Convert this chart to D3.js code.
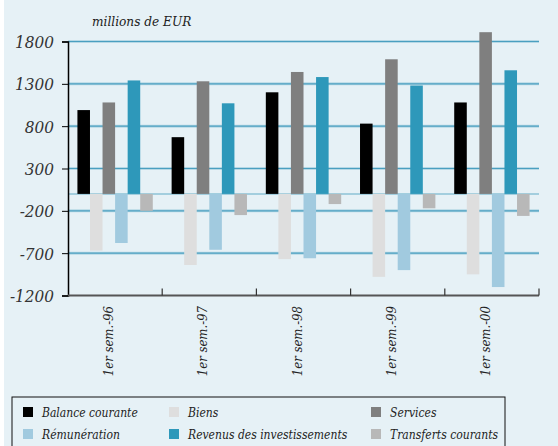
<!DOCTYPE html>
<html>
<head>
<meta charset="utf-8">
<script src="https://cdn.jsdelivr.net/npm/d3@7"></script>
<style>
  body { margin: 0; background: #fff; }
  svg { display: block; }
  svg text { font-family: "DejaVu Serif Condensed", "DejaVu Serif", serif !important; font-style: italic; fill: #222; }
</style>
</head>
<body>
<div id="chart"></div>
<script>
var periods = ["1er sem.-96", "1er sem.-97", "1er sem.-98", "1er sem.-99", "1er sem.-00"];
var seriesNames = ["Balance courante", "Biens", "Services", "Rémunération", "Revenus des investissements", "Transferts courants"];
var seriesColors = ["#000000", "#dedede", "#7f7f7f", "#a1cadf", "#2e98ba", "#b8b8b8"];

var balance    = [990, 670, 1200, 830, 1080];
var biens      = [-670, -840, -770, -980, -950];
var services   = [1080, 1330, 1440, 1590, 1910];
var remun      = [-580, -660, -760, -900, -1100];
var revenus    = [1340, 1070, 1380, 1280, 1460];
var transferts = [-200, -250, -120, -170, -260];

var yTicks = [1800, 1300, 800, 300, -200, -700, -1200];

var allSeries = [balance, biens, services, remun, revenus, transferts];

var W = 558, H = 446;
var svg = d3.select("#chart").append("svg").attr("width", W).attr("height", H);

svg.append("rect").attr("x", 4).attr("y", 0).attr("width", W - 4).attr("height", H).style("fill", "#e6f1f6");

var plotL = 68, plotR = 539, plotT = 41.5, plotB = 295.5;

var x = d3.scaleBand().domain(periods).range([plotL, plotR]).paddingInner(0.2).paddingOuter(0.1);
var step = (plotR - plotL) / periods.length;
var xs = d3.scaleBand().domain(d3.range(seriesNames.length)).range([0, x.bandwidth()]);
var y = d3.scaleLinear().domain([-1200, 1800]).range([plotB, plotT]);

// gridlines
var grid = svg.append("g");
grid.selectAll("line.halo").data(yTicks.slice(0, -1)).enter().append("line")
  .attr("x1", plotL).attr("x2", plotR)
  .attr("y1", function(d){ return y(d); }).attr("y2", function(d){ return y(d); })
  .style("stroke", "#b6d8e5").style("stroke-width", 3);
grid.selectAll("line.main").data(yTicks.slice(0, -1)).enter().append("line")
  .attr("x1", plotL).attr("x2", plotR)
  .attr("y1", function(d){ return y(d); }).attr("y2", function(d){ return y(d); })
  .style("stroke", "#4a9fc0").style("stroke-width", 1.2);
grid.append("line")
  .attr("x1", plotL).attr("x2", plotR).attr("y1", y(0)).attr("y2", y(0))
  .style("stroke", "#8cc2d6").style("stroke-width", 1.5);

// bars
var groups = svg.selectAll("g.grp").data(periods).enter().append("g")
  .attr("transform", function(d){ return "translate(" + x(d) + ",0)"; });

groups.selectAll("rect").data(function(d, i){
    return allSeries.map(function(s, k){ return {k: k, v: s[i]}; });
  }).enter().append("rect")
  .attr("x", function(d){ return xs(d.k); })
  .attr("width", xs.bandwidth())
  .attr("y", function(d){ return y(Math.max(0, d.v)); })
  .attr("height", function(d){ return Math.abs(y(d.v) - y(0)); })
  .style("fill", function(d){ return seriesColors[d.k]; });

// y axis
var yAxis = svg.append("g").attr("transform", "translate(" + plotL + ",0)")
  .call(d3.axisLeft(y).tickValues(yTicks).tickSize(6).tickFormat(function(d){ return d; }));
yAxis.attr("font-family", null);
yAxis.select(".domain").style("stroke", "#000").style("stroke-width", 1.5);
yAxis.selectAll(".tick line").style("stroke", "#000");
yAxis.selectAll(".tick text")
  .attr("x", -14).attr("dy", "0.36em")
  .style("font-size", "17px").style("fill", "#333");

// x axis at bottom
svg.append("line").attr("x1", plotL).attr("x2", plotR).attr("y1", plotB).attr("y2", plotB)
  .style("stroke", "#555").style("stroke-width", 2);
svg.selectAll("line.xt").data(d3.range(1, periods.length + 1)).enter().append("line")
  .attr("x1", function(d){ return plotL + d * step; }).attr("x2", function(d){ return plotL + d * step; })
  .attr("y1", plotB).attr("y2", plotB - 7)
  .style("stroke", "#333").style("stroke-width", 1.2);

svg.selectAll("text.xl").data(periods).enter().append("text")
  .attr("text-anchor", "end")
  .attr("transform", function(d){ return "translate(" + (x(d) + x.bandwidth() / 2 - 2) + "," + 306 + ") rotate(-90)"; })
  .style("font-size", "13px")
  .text(function(d){ return d; });

svg.append("text").attr("x", 92).attr("y", 26).style("font-size", "13.5px").text("millions de EUR");

// legend
svg.append("rect").attr("x", 12).attr("y", 397).attr("width", 493).attr("height", 60)
  .style("fill", "none").style("stroke", "#111").style("stroke-width", 1);

var legCols = [23, 169, 371];
var legRows = [412, 434];
var leg = svg.selectAll("g.leg").data(seriesNames).enter().append("g")
  .attr("transform", function(d, i){ return "translate(" + legCols[i % 3] + "," + legRows[Math.floor(i / 3)] + ")"; });
leg.append("rect").attr("x", 0).attr("y", -5).attr("width", 10).attr("height", 10)
  .style("fill", function(d, i){ return seriesColors[i]; });
leg.append("text").attr("x", 19).attr("y", 5).style("font-size", "12px").text(function(d){ return d; });
</script>
</body>
</html>
